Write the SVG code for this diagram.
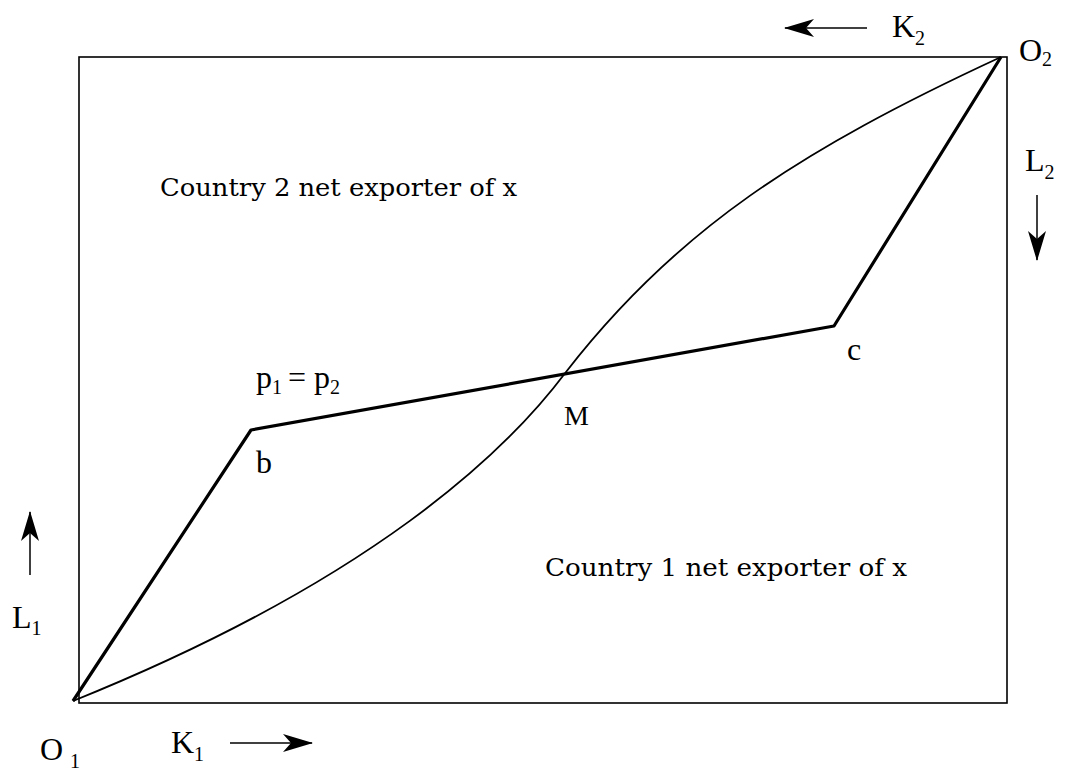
<svg xmlns="http://www.w3.org/2000/svg" width="1065" height="775" viewBox="0 0 1065 775">
<style>
.t{font-family:"Liberation Serif","Times New Roman",serif;fill:#000;font-size:28px}
.w{font-family:"DejaVu Serif","Liberation Serif",serif;font-size:24px}
.L{font-size:32px}
.s{font-size:20px}
.box{fill:none;stroke:#000;stroke-width:1.6}
.heavy{fill:none;stroke:#000;stroke-width:3.2;stroke-linejoin:round}
.curve{fill:none;stroke:#000;stroke-width:1.8}
.ar{stroke:#000;stroke-width:1.5}
</style>
<defs>
<marker id="ahb" markerWidth="30" markerHeight="18" refX="29" refY="9" orient="auto" markerUnits="userSpaceOnUse" viewBox="0 0 30 18">
<path d="M0,0 L30,9 L0,18 L8,9 Z" fill="#000"/>
</marker>
</defs>
<rect x="0" y="0" width="1065" height="775" fill="#fff"/>
<g id="box"><rect class="box" x="79" y="57" width="928" height="646"/></g>
<g id="connectors">
<path id="contract-curve" class="curve" d="M73,701 C373,580 506,452 566,372 C676,230 800,150 1001,57"/>
<path id="price-line" class="heavy" d="M73,701 L251,430 L834,326 L1001,57"/>
<line class="ar" x1="867" y1="28" x2="785" y2="28" marker-end="url(#ahb)"/>
<line class="ar" x1="1037" y1="195" x2="1037" y2="260" marker-end="url(#ahb)"/>
<line class="ar" x1="30" y1="575" x2="30" y2="512" marker-end="url(#ahb)"/>
<line class="ar" x1="230" y1="743" x2="312" y2="743" marker-end="url(#ahb)"/>
</g>
<g id="labels">
<text class="t w" x="160" y="196" textLength="357" lengthAdjust="spacingAndGlyphs">Country 2 net exporter of x</text>
<text class="t w" x="545" y="576" textLength="362" lengthAdjust="spacingAndGlyphs">Country 1 net exporter of x</text>
<text class="t L" x="256" y="388">p<tspan class="s" dy="6">1</tspan><tspan dx="6" dy="-6">=</tspan><tspan dx="8">p</tspan><tspan class="s" dy="6">2</tspan></text>
<text class="t" x="564" y="425" font-size="30">M</text>
<text class="t L" x="256" y="473">b</text>
<text class="t L" x="847" y="360">c</text>
<text class="t L" x="1019" y="61">O<tspan class="s" dy="5">2</tspan></text>
<text class="t L" x="892" y="37">K<tspan class="s" dy="8">2</tspan></text>
<text class="t L" x="1025" y="171">L<tspan class="s" dy="8">2</tspan></text>
<text class="t L" x="12" y="628">L<tspan class="s" dy="7">1</tspan></text>
<text class="t L" x="40" y="760">O<tspan class="s" dx="7" dy="8">1</tspan></text>
<text class="t L" x="171" y="753">K<tspan class="s" dy="8">1</tspan></text>
</g>
</svg>
